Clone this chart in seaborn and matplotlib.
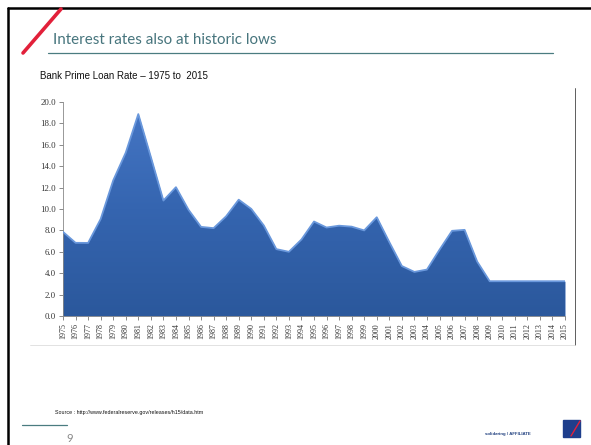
import numpy as np
import pandas as pd
import matplotlib
matplotlib.use("Agg")
import matplotlib.pyplot as plt
from matplotlib.lines import Line2D
from matplotlib.patches import Rectangle
from matplotlib.colors import LinearSegmentedColormap
import seaborn as sns

years = list(range(1975, 2016))
rates = [7.86, 6.84, 6.83, 9.06, 12.67, 15.27, 18.87, 14.86, 10.79, 12.04,
         9.93, 8.33, 8.21, 9.32, 10.87, 10.01, 8.46, 6.25, 6.00, 7.15,
         8.83, 8.27, 8.44, 8.35, 8.00, 9.23, 6.91, 4.67, 4.12, 4.34,
         6.19, 7.96, 8.05, 5.09, 3.25, 3.25, 3.25, 3.25, 3.25, 3.25, 3.25]
yticks = [0, 2, 4, 6, 8, 10, 12, 14, 16, 18, 20]

title = "Interest rates also at historic lows"
subtitle = "Bank Prime Loan Rate \u2013 1975 to  2015"
source = "Source : http://www.federalreserve.gov/releases/h15/data.htm"

df = pd.DataFrame({"year": years, "rate": rates})

sns.set_theme(style="white")
W, H = 591, 445
fig = plt.figure(figsize=(W / 100, H / 100), dpi=100)

def fx(px):
    return px / W

def fy(py):
    return 1 - py / H

ax = fig.add_axes([fx(63), fy(316), fx(565) - fx(63), fy(102) - fy(316)])

# gradient filled area
poly = ax.fill_between(df["year"], df["rate"], 0, color="#3565b3", lw=0, zorder=1)
grad = np.linspace(0, 1, 256).reshape(-1, 1)
cmap = LinearSegmentedColormap.from_list("g", ["#2b589c", "#3565b0", "#4677c6"])
im = ax.imshow(grad, extent=[1975, 2015, 0, 20], aspect="auto", cmap=cmap,
               zorder=2, origin="lower")
path = poly.get_paths()[0]
im.set_clip_path(path, transform=ax.transData)
sns.lineplot(data=df, x="year", y="rate", ax=ax, color="#6a98dc", lw=1.3,
             zorder=3)

ax.set_xlim(1975, 2015)
ax.set_ylim(0, 20)
ax.set_xticks(years)
ax.set_xticklabels([str(y) for y in years], rotation=90,
                   fontsize=5.8, family="Liberation Serif", color="#333333")
ax.set_yticks(yticks)
ax.set_yticklabels([f"{v:.1f}" for v in yticks], fontsize=6.3,
                   family="Liberation Serif", color="#333333")
ax.tick_params(axis="both", which="both", length=3, width=0.6, color="#777777",
               pad=2, bottom=True, left=True)
for s in ["top", "right"]:
    ax.spines[s].set_visible(False)
ax.spines["left"].set_color("#888888")
ax.spines["bottom"].set_color("#888888")
ax.spines["left"].set_linewidth(0.6)
ax.spines["bottom"].set_linewidth(0.6)
ax.set_xlabel("")
ax.set_ylabel("")
ax.grid(False)

# slide decorations
fig.add_artist(Line2D([fx(8), fx(591)], [fy(8), fy(8)], color="black", lw=1.8))
fig.add_artist(Line2D([fx(8), fx(8)], [fy(8), fy(445)], color="black", lw=1.8))
fig.add_artist(Line2D([fx(23), fx(61)], [fy(53), fy(9)], color="#e2203a", lw=2.6))
fig.add_artist(Line2D([fx(48), fx(553)], [fy(53), fy(53)], color="#4a7c80", lw=0.9))
fig.text(fx(53), fy(44), title, fontsize=10.9, family="Lato", weight="normal",
         color="#47757d", va="baseline", ha="left")
fig.text(fx(40), fy(79), subtitle, fontsize=7, family="Liberation Sans",
         color="#111111", va="baseline", ha="left")
fig.add_artist(Line2D([fx(575), fx(575)], [fy(88), fy(345)], color="#444444", lw=0.6))
fig.add_artist(Line2D([fx(30), fx(575)], [fy(345), fy(345)], color="#dddddd", lw=0.6))
fig.text(fx(55), fy(414), source, fontsize=3.9, family="Liberation Sans",
         color="#111111", va="baseline", ha="left")
fig.add_artist(Line2D([fx(22), fx(67)], [fy(425), fy(425)], color="#4a7c80", lw=0.9))
fig.text(fx(66), fy(442), "9", fontsize=8, family="Lato", color="#888888",
         va="baseline", ha="left")
fig.text(fx(485), fy(435), "solidaring / AFFILIATE", fontsize=3.2,
         family="Liberation Sans", color="#1f3f7f", va="baseline", ha="left",
         weight="bold")
fig.add_artist(Rectangle((fx(563), fy(437)), fx(17), fy(420) - fy(437),
                         color="#1e3e8c", transform=fig.transFigure))
fig.add_artist(Line2D([fx(571), fx(580)], [fy(436), fy(421)], color="#e2203a", lw=1))

fig.savefig("out.png", dpi=100)
